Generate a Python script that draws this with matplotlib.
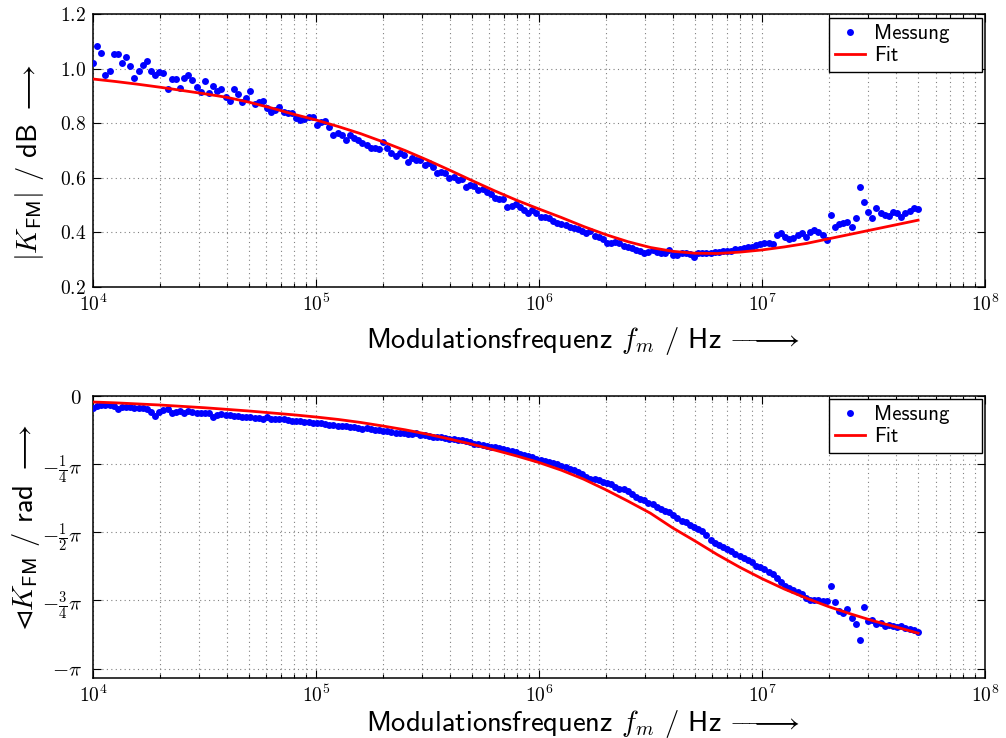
import numpy as np
import matplotlib
matplotlib.use("Agg")
import matplotlib.pyplot as plt
from matplotlib.ticker import FixedLocator, LogLocator, NullFormatter, FuncFormatter, FixedFormatter

# ---------------- data ----------------
freq = np.geomspace(1e4, 5e7, 200)  # measurement sweep grid (Hz)

mag_meas = [
    1.022, 1.083, 1.056, 0.977, 0.991, 1.053, 1.052, 1.022, 1.042, 1.010,
    0.966, 0.991, 1.013, 1.028, 0.992, 0.978, 0.988, 0.983, 0.926, 0.961,
    0.961, 0.930, 0.967, 0.975, 0.958, 0.931, 0.914, 0.953, 0.912, 0.937,
    0.918, 0.926, 0.897, 0.880, 0.924, 0.907, 0.877, 0.893, 0.919, 0.869,
    0.877,
    0.882, 0.855, 0.842, 0.848, 0.860, 0.842, 0.839, 0.836, 0.818, 0.812,
    0.814, 0.822, 0.822, 0.793, 0.806, 0.809, 0.787, 0.757, 0.763, 0.757,
    0.738, 0.757, 0.745, 0.738, 0.726, 0.720, 0.708, 0.708, 0.704, 0.732,
    0.708, 0.690, 0.680, 0.690, 0.683, 0.659, 0.671, 0.665, 0.665, 0.647,
    0.653, 0.641, 0.619, 0.622, 0.616, 0.598, 0.604, 0.592, 0.594,
    0.565, 0.574, 0.570, 0.555, 0.558, 0.549, 0.540, 0.525, 0.521, 0.522,
    0.492, 0.497, 0.504, 0.492, 0.482, 0.472, 0.482, 0.470, 0.455, 0.458,
    0.452, 0.443, 0.433, 0.431, 0.427, 0.421, 0.415, 0.411, 0.406, 0.397,
    0.406, 0.387, 0.382, 0.375, 0.362, 0.362, 0.366, 0.360,
    0.350, 0.348, 0.342, 0.336, 0.333, 0.326, 0.329, 0.336, 0.329, 0.326,
    0.323, 0.336, 0.317, 0.317, 0.326, 0.323, 0.321, 0.311, 0.326, 0.326,
    0.326, 0.326, 0.329, 0.329, 0.332, 0.333, 0.333, 0.338, 0.338, 0.342,
    0.345, 0.348, 0.354, 0.357, 0.362, 0.360, 0.357, 0.390, 0.399, 0.382,
    0.375,
    0.378, 0.390, 0.397, 0.384, 0.403, 0.409, 0.403, 0.390, 0.372, 0.464,
    0.419, 0.431, 0.436, 0.439, 0.419, 0.452, 0.565, 0.511, 0.476, 0.452,
    0.490, 0.472, 0.464, 0.460, 0.475, 0.472, 0.455, 0.470, 0.480, 0.488,
    0.485,
]

# phase of K_FM in units of pi
phase_meas_pi = [
    -0.045, -0.035, -0.033, -0.034, -0.033, -0.035, -0.049, -0.039, -0.041, -0.039,
    -0.043, -0.045, -0.045, -0.049, -0.057, -0.073, -0.058, -0.051, -0.049, -0.064,
    -0.057, -0.055, -0.061, -0.056, -0.058, -0.061, -0.061, -0.064, -0.064, -0.076,
    -0.069, -0.066, -0.070, -0.071, -0.073, -0.072, -0.076, -0.078, -0.076, -0.080,
    -0.081, -0.083, -0.078, -0.083, -0.086, -0.083, -0.086, -0.088, -0.093, -0.090,
    -0.093, -0.095, -0.094, -0.098, -0.100, -0.100, -0.103, -0.105, -0.105, -0.109,
    -0.110, -0.110, -0.114, -0.115, -0.117, -0.120, -0.118, -0.122, -0.123, -0.125,
    -0.128, -0.129, -0.132, -0.134, -0.134, -0.137, -0.138, -0.139, -0.134, -0.142,
    -0.144, -0.146, -0.149, -0.150, -0.151, -0.155, -0.156, -0.157, -0.160, -0.163,
    -0.165, -0.168, -0.176, -0.177, -0.180, -0.182, -0.186, -0.188, -0.191, -0.193,
    -0.199, -0.203, -0.207, -0.212, -0.216,
    -0.219, -0.223, -0.230, -0.234, -0.238, -0.242, -0.247, -0.251, -0.256, -0.260,
    -0.269, -0.273, -0.277, -0.287, -0.298, -0.303, -0.305, -0.308, -0.314, -0.319,
    -0.324, -0.335, -0.342, -0.342, -0.349, -0.358, -0.369, -0.377, -0.383, -0.391,
    -0.398, -0.409, -0.415, -0.421, -0.427, -0.436, -0.449, -0.458, -0.464, -0.472,
    -0.480, -0.488, -0.496, -0.509, -0.527, -0.540, -0.547, -0.554, -0.563, -0.569,
    -0.579, -0.588, -0.596, -0.601, -0.608, -0.623, -0.629, -0.635, -0.645, -0.652,
    -0.668, -0.684, -0.696, -0.703, -0.712, -0.720, -0.728, -0.742, -0.750, -0.747,
    -0.748, -0.751, -0.753, -0.696, -0.757, -0.790, -0.796, -0.781, -0.814, -0.835,
    -0.894, -0.774, -0.826, -0.823, -0.835, -0.833, -0.842, -0.839, -0.845, -0.847,
    -0.845, -0.851, -0.855, -0.857, -0.867,
]

fit_log10f = [4.0, 4.1, 4.2, 4.3, 4.4, 4.5, 4.6, 4.7, 4.8, 4.9,
              5.0, 5.1, 5.2, 5.3, 5.4, 5.5, 5.6, 5.7, 5.8, 5.9,
              6.0, 6.1, 6.2, 6.3, 6.4, 6.5, 6.6, 6.7, 6.8, 6.9,
              7.0, 7.1, 7.2, 7.3, 7.4, 7.5, 7.6, 7.7]
mag_fit = [0.962, 0.953, 0.943, 0.932, 0.920, 0.908, 0.895, 0.877, 0.856, 0.833,
           0.812, 0.788, 0.762, 0.732, 0.700, 0.665, 0.628, 0.590, 0.553, 0.518,
           0.486, 0.455, 0.422, 0.392, 0.366, 0.345, 0.331, 0.324, 0.323, 0.328,
           0.336, 0.347, 0.360, 0.377, 0.394, 0.411, 0.428, 0.445]
phase_fit_pi = [-0.022, -0.025, -0.029, -0.033, -0.038, -0.043, -0.049, -0.055, -0.062, -0.069,
                -0.077, -0.086, -0.097, -0.110, -0.124, -0.140, -0.158, -0.177, -0.198, -0.220,
                -0.244, -0.272, -0.305, -0.344, -0.386, -0.430, -0.484, -0.532, -0.582, -0.628,
                -0.670, -0.708, -0.742, -0.773, -0.800, -0.825, -0.847, -0.870]

phase_ticks_pi = [0, -0.25, -0.5, -0.75, -1.0]
phase_ticklabels = [r"$0$", r"$-\frac{1}{4}\pi$", r"$-\frac{1}{2}\pi$",
                    r"$-\frac{3}{4}\pi$", r"$-\pi$"]
mag_ticks = [0.2, 0.4, 0.6, 0.8, 1.0, 1.2]

# ---------------- style ----------------
plt.rcParams["mathtext.fontset"] = "cm"
plt.rcParams["font.family"] = ["cmss10", "DejaVu Sans"]
plt.rcParams["axes.unicode_minus"] = False

fit_freq = 10 ** np.array(fit_log10f)

fig = plt.figure(figsize=(10.06, 7.38), dpi=100)
ax1 = fig.add_axes([0.0924, 0.611, 0.8867, 0.370])
ax2 = fig.add_axes([0.0924, 0.0813, 0.8867, 0.3821])

xlabel = r"Modulationsfrequenz $f_m$ / Hz ${-}\!\!\!{-}\!\!\!\longrightarrow$"
LABEL_FS = 20.5


def style(ax):
    ax.set_xscale("log")
    ax.set_xlim(1e4, 1e8)
    ax.xaxis.set_major_locator(LogLocator(base=10, numticks=10))
    ax.xaxis.set_minor_locator(LogLocator(base=10, subs=np.arange(2, 10), numticks=50))
    ax.xaxis.set_minor_formatter(NullFormatter())
    ax.xaxis.set_major_formatter(FuncFormatter(lambda v, p: r"$10^{%d}$" % int(round(np.log10(v)))))
    ax.tick_params(which="both", direction="in", top=True, right=True, labelsize=14, width=0.8)
    ax.tick_params(which="major", length=6, pad=5)
    ax.tick_params(which="minor", length=3)
    ax.grid(True, which="both", axis="x", linestyle=(0, (1, 3)), color="0.5", linewidth=0.8)
    ax.grid(True, which="major", axis="y", linestyle=(0, (1, 3)), color="0.5", linewidth=0.8)
    for s in ax.spines.values():
        s.set_linewidth(1.1)
    ax.set_xlabel(xlabel, fontsize=LABEL_FS)


# top: magnitude
ax1.plot(freq, mag_meas, "o", color="blue", markersize=5, markeredgewidth=0, label="Messung", zorder=3)
ax1.plot(fit_freq, mag_fit, "-", color="red", linewidth=2.0, label="Fit", zorder=4)
style(ax1)
ax1.set_ylim(0.2, 1.2)
ax1.yaxis.set_major_locator(FixedLocator(mag_ticks))
ax1.yaxis.set_major_formatter(FuncFormatter(lambda v, p: r"$%.1f$" % v))
ax1.set_ylabel(r"$|K_{\mathsf{FM}}|$ / dB $\longrightarrow$", fontsize=LABEL_FS)
ax1.xaxis.set_label_coords(0.549, -0.138)
ax1.yaxis.set_label_coords(-0.053, 0.455)

# bottom: phase
ax2.plot(freq, np.array(phase_meas_pi) * np.pi, "o", color="blue", markersize=5, markeredgewidth=0,
         label="Messung", zorder=3)
ax2.plot(fit_freq, np.array(phase_fit_pi) * np.pi, "-", color="red", linewidth=2.0, label="Fit", zorder=4)
style(ax2)
ax2.set_ylim(-3.25, 0)
ax2.yaxis.set_major_locator(FixedLocator([t * np.pi for t in phase_ticks_pi]))
ax2.yaxis.set_major_formatter(FixedFormatter(phase_ticklabels))
ax2.tick_params(axis="y", labelsize=15, pad=8)
ax2.set_ylabel("$\u22b2K_{\\mathsf{FM}}$ / rad $\\longrightarrow$", fontsize=LABEL_FS)
ax2.xaxis.set_label_coords(0.549, -0.105)
ax2.yaxis.set_label_coords(-0.057, 0.534)

legend_boxes = {ax1: (0.825, 0.985), ax2: (0.825, 0.989)}
for ax in (ax1, ax2):
    x0, ytop = legend_boxes[ax]
    leg = ax.legend(loc="upper left", bbox_to_anchor=(x0, ytop - 0.3, 0.1716, 0.3), mode="expand",
                    fontsize=15, fancybox=False, edgecolor="black", framealpha=1,
                    numpoints=1, handlelength=1.45, handletextpad=0.4, borderaxespad=0.0,
                    borderpad=0.3, labelspacing=0.15)
    leg.get_frame().set_linewidth(1.0)

fig.savefig("out.png", dpi=100)
